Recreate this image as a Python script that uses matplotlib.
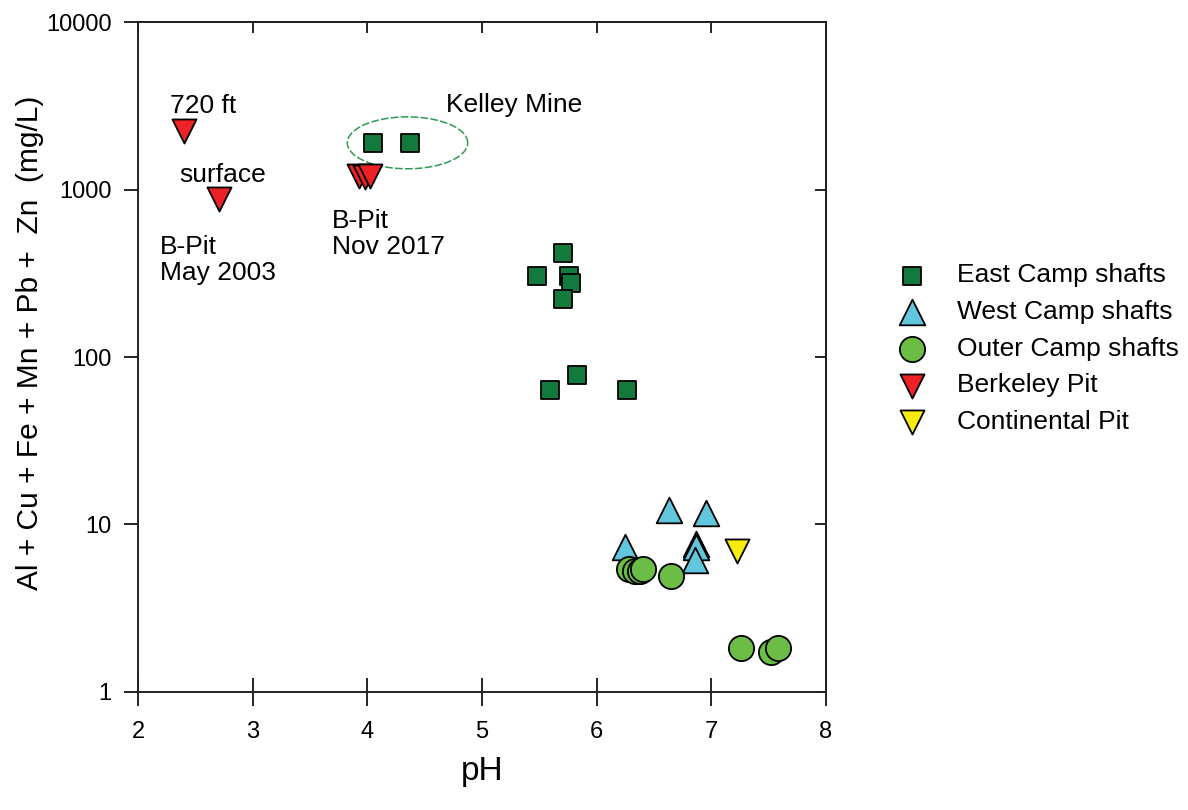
import numpy as np
import matplotlib
matplotlib.use('Agg')
import matplotlib.pyplot as plt

plt.rcParams['font.family'] = ['Liberation Sans', 'DejaVu Sans']

# === DATA ===
east_ph = [4.05, 4.37, 5.48, 5.71, 5.76, 5.78, 5.71, 5.83, 5.59, 6.26]
east_conc = [1897, 1900, 305, 418, 305, 277, 222, 78, 63.5, 63.5]

west_ph = [6.63, 6.95, 6.25, 6.87, 6.87, 6.86]
west_conc = [12.2, 11.7, 7.3, 7.6, 7.3, 6.1]

outer_ph = [6.28, 6.33, 6.38, 6.40, 6.65, 7.26, 7.52, 7.58]
outer_conc = [5.4, 5.3, 5.3, 5.4, 4.9, 1.83, 1.73, 1.83]

berkeley_ph = [2.40, 2.71, 3.93, 3.98, 4.02]
berkeley_conc = [2234, 877, 1200, 1190, 1210]

continental_ph = [7.22]
continental_conc = [6.9]

x_ticks = [2, 3, 4, 5, 6, 7, 8]
y_ticks = [1, 10, 100, 1000, 10000]
y_ticklabels = ['1', '10', '100', '1000', '10000']

# Kelley Mine ellipse: centre pH, centre conc, half-width (pH), half-height (decades)
kelley_center = (4.35, 1900)
kelley_half = (0.525, 0.155)

# === FIGURE ===
fig = plt.figure(figsize=(11.88, 8.10), dpi=100)
ax = fig.add_axes([0.1162, 0.1457, 0.5791, 0.8271])

ec = 'black'
lw = 1.3
ax.scatter(east_ph, east_conc, marker='s', s=170, c='#117a3c', edgecolors=ec, linewidths=lw,
           label='East Camp shafts', zorder=3)
ax.scatter(west_ph, west_conc, marker='^', s=340, c='#62c6dc', edgecolors=ec, linewidths=lw,
           label='West Camp shafts', zorder=3)
ax.scatter(outer_ph, outer_conc, marker='o', s=330, c='#6cbd45', edgecolors=ec, linewidths=lw,
           label='Outer Camp shafts', zorder=3)
ax.scatter(berkeley_ph, berkeley_conc, marker='v', s=300, c='#ec2227', edgecolors=ec, linewidths=lw,
           label='Berkeley Pit', zorder=3)
ax.scatter(continental_ph, continental_conc, marker='v', s=300, c='#f7ec10', edgecolors=ec,
           linewidths=lw, label='Continental Pit', zorder=3)

# dashed ellipse around the Kelley Mine points (drawn in log space for y)
t = np.linspace(0, 2 * np.pi, 300)
ex = kelley_center[0] + kelley_half[0] * np.cos(t)
ey = 10 ** (np.log10(kelley_center[1]) + kelley_half[1] * np.sin(t))
ax.plot(ex, ey, color='#2e9a55', lw=1.1, ls=(0, (5, 1.5)), zorder=2)

# annotations (multi-line labels are anchored on their last baseline)
fs = 19
ax.text(2.28, 2865, '720 ft', fontsize=fs, va='baseline', ha='left')
ax.text(2.36, 1109, 'surface', fontsize=fs, va='baseline', ha='left')
ax.text(2.19, 288, 'B-Pit\nMay 2003', fontsize=fs, va='baseline', ha='left', linespacing=1.12)
ax.text(3.69, 412, 'B-Pit\nNov 2017', fontsize=fs, va='baseline', ha='left', linespacing=1.12)
ax.text(4.685, 2904, 'Kelley Mine', fontsize=fs, va='baseline', ha='left')

# axes setup
ax.set_yscale('log')
ax.set_xlim(2, 8)
ax.set_ylim(1, 10000)
ax.set_xticks(x_ticks)
ax.set_xticklabels([str(v) for v in x_ticks])
ax.set_yticks(y_ticks)
ax.set_yticklabels(y_ticklabels)
ax.yaxis.set_minor_locator(matplotlib.ticker.NullLocator())
ax.tick_params(axis='x', direction='inout', length=20, width=1.2, labelsize=17, pad=11)
ax.tick_params(axis='y', direction='out', length=10, width=1.2, labelsize=17, pad=9)

for sp in ax.spines.values():
    sp.set_linewidth(1.4)
    sp.set_color('#222222')

# inward ticks on top and right
top = ax.secondary_xaxis('top')
top.set_xticks(x_ticks)
top.tick_params(direction='in', length=8, width=1.2, labeltop=False)
top.spines['top'].set_linewidth(1.4)
right = ax.secondary_yaxis('right')
right.set_yticks(y_ticks)
right.yaxis.set_minor_locator(matplotlib.ticker.NullLocator())
right.tick_params(direction='in', length=8, width=1.2, labelright=False)
right.spines['right'].set_linewidth(1.4)

ax.set_xlabel('pH', fontsize=24, labelpad=9)
ax.set_ylabel('Al + Cu + Fe + Mn + Pb +  Zn  (mg/L)', fontsize=21.5)
ax.yaxis.set_label_coords(-0.137, 0.5216)

fig.legend(loc='upper left', bbox_to_anchor=(0.7455, 0.6747), frameon=False, fontsize=19,
           handletextpad=0.7, labelspacing=0.48, scatterpoints=1, borderaxespad=0,
           borderpad=0, handlelength=2.0)

fig.savefig('out.png', dpi=100)
